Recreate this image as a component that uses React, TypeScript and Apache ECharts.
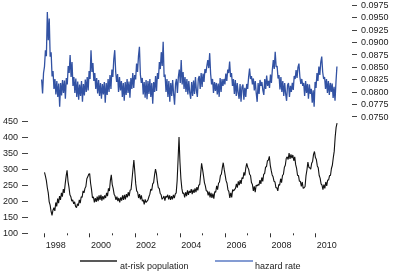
import React, { useEffect, useRef } from "react";
import * as echarts from "echarts";

const START_YEAR = 1998;
const STEPS_PER_YEAR = 24;
const X_MIN = 1997.27;
const X_MAX = 2011.62;

// at-risk population, semi-monthly, 1998-2010
const atRisk: number[] = [
  290, 278, 264, 242, 226, 198, 188, 168, 156, 172, 180, 170, 196, 184, 208, 194, 216, 204, 226, 214, 238, 226, 254, 278,
  296, 262, 244, 220, 214, 200, 204, 192, 198, 184, 180, 192, 186, 204, 194, 214, 212, 232, 226, 240, 246, 270, 276, 284,
  286, 256, 236, 210, 214, 196, 210, 198, 214, 200, 218, 204, 220, 202, 216, 206, 218, 210, 226, 216, 240, 232, 264, 282,
  252, 240, 222, 216, 204, 214, 200, 210, 196, 212, 202, 218, 204, 220, 206, 222, 212, 228, 216, 234, 236, 266, 298, 328,
  292, 254, 232, 228, 210, 222, 206, 218, 200, 204, 190, 206, 196, 200, 204, 214, 222, 238, 234, 254, 258, 282, 300, 286,
  260, 242, 240, 224, 220, 206, 210, 216, 202, 216, 212, 220, 206, 218, 204, 216, 206, 220, 210, 222, 226, 264, 330, 400,
  322, 270, 240, 224, 226, 212, 228, 216, 234, 220, 232, 226, 238, 222, 236, 226, 240, 228, 244, 234, 250, 252, 284, 318,
  300, 280, 258, 248, 232, 232, 218, 230, 212, 226, 210, 224, 208, 230, 228, 248, 236, 256, 260, 280, 284, 304, 320, 300,
  282, 264, 256, 236, 230, 210, 226, 212, 236, 232, 236, 240, 254, 242, 262, 250, 266, 254, 274, 270, 290, 280, 304, 318,
  306, 300, 284, 280, 258, 252, 232, 246, 228, 250, 248, 252, 250, 266, 254, 274, 262, 284, 286, 306, 308, 326, 328, 340,
  312, 296, 282, 276, 262, 260, 242, 242, 232, 252, 250, 270, 258, 280, 284, 306, 312, 334, 338, 330, 350, 332, 346, 334,
  344, 326, 338, 314, 302, 280, 280, 262, 262, 246, 260, 240, 242, 246, 280, 298, 322, 306, 304, 300, 318, 324, 346, 355,
  336, 330, 310, 304, 280, 272, 254, 250, 236, 252, 240, 260, 248, 266, 266, 280, 280, 302, 312, 336, 356, 400, 430, 443,
];

// hazard rate, semi-monthly, 1998-2010
const hazard: number[] = [
  0.0825, 0.0797, 0.0838, 0.0851, 0.0884, 0.0872, 0.0961, 0.0904, 0.0948, 0.0871, 0.0880, 0.0831, 0.0842, 0.0806, 0.0826, 0.0795, 0.0822, 0.0790, 0.0817, 0.0770, 0.0818, 0.0793, 0.0824, 0.0798,
  0.0823, 0.0786, 0.0828, 0.0815, 0.0852, 0.0838, 0.0874, 0.0830, 0.0860, 0.0812, 0.0830, 0.0798, 0.0827, 0.0790, 0.0821, 0.0784, 0.0815, 0.0792, 0.0822, 0.0780, 0.0816, 0.0793, 0.0825, 0.0800,
  0.0830, 0.0803, 0.0842, 0.0826, 0.0884, 0.0840, 0.0858, 0.0822, 0.0838, 0.0806, 0.0828, 0.0797, 0.0824, 0.0792, 0.0818, 0.0786, 0.0816, 0.0795, 0.0820, 0.0778, 0.0818, 0.0794, 0.0826, 0.0800,
  0.0834, 0.0806, 0.0845, 0.0830, 0.0866, 0.0884, 0.0840, 0.0820, 0.0836, 0.0800, 0.0830, 0.0803, 0.0822, 0.0790, 0.0818, 0.0782, 0.0820, 0.0794, 0.0826, 0.0798, 0.0821, 0.0788, 0.0828, 0.0806,
  0.0838, 0.0808, 0.0834, 0.0825, 0.0857, 0.0840, 0.0872, 0.0891, 0.0835, 0.0818, 0.0828, 0.0795, 0.0820, 0.0788, 0.0824, 0.0785, 0.0822, 0.0796, 0.0826, 0.0790, 0.0818, 0.0776, 0.0820, 0.0800,
  0.0832, 0.0802, 0.0838, 0.0826, 0.0860, 0.0846, 0.0880, 0.0852, 0.0901, 0.0830, 0.0835, 0.0800, 0.0826, 0.0790, 0.0822, 0.0780, 0.0818, 0.0792, 0.0824, 0.0796, 0.0774, 0.0816, 0.0826, 0.0798,
  0.0830, 0.0845, 0.0818, 0.0864, 0.0815, 0.0840, 0.0806, 0.0830, 0.0800, 0.0826, 0.0795, 0.0822, 0.0798, 0.0786, 0.0820, 0.0792, 0.0823, 0.0796, 0.0830, 0.0802, 0.0790, 0.0826, 0.0832, 0.0806,
  0.0838, 0.0810, 0.0837, 0.0820, 0.0846, 0.0838, 0.0852, 0.0864, 0.0848, 0.0878, 0.0836, 0.0815, 0.0826, 0.0798, 0.0820, 0.0802, 0.0818, 0.0795, 0.0817, 0.0790, 0.0828, 0.0800, 0.0826, 0.0812,
  0.0826, 0.0815, 0.0837, 0.0822, 0.0845, 0.0838, 0.0861, 0.0830, 0.0838, 0.0812, 0.0826, 0.0796, 0.0824, 0.0792, 0.0818, 0.0798, 0.0786, 0.0816, 0.0780, 0.0810, 0.0815, 0.0784, 0.0808, 0.0790,
  0.0816, 0.0806, 0.0830, 0.0847, 0.0826, 0.0832, 0.0815, 0.0827, 0.0803, 0.0822, 0.0798, 0.0780, 0.0818, 0.0796, 0.0824, 0.0812, 0.0820, 0.0803, 0.0794, 0.0826, 0.0806, 0.0833, 0.0812, 0.0822,
  0.0808, 0.0835, 0.0818, 0.0845, 0.0864, 0.0846, 0.0881, 0.0850, 0.0852, 0.0827, 0.0834, 0.0805, 0.0830, 0.0800, 0.0822, 0.0792, 0.0818, 0.0796, 0.0782, 0.0814, 0.0818, 0.0790, 0.0812, 0.0800,
  0.0818, 0.0804, 0.0832, 0.0826, 0.0844, 0.0828, 0.0850, 0.0857, 0.0830, 0.0816, 0.0826, 0.0812, 0.0818, 0.0792, 0.0822, 0.0798, 0.0816, 0.0786, 0.0815, 0.0796, 0.0806, 0.0778, 0.0803, 0.0770,
  0.0820, 0.0808, 0.0838, 0.0822, 0.0851, 0.0834, 0.0860, 0.0871, 0.0840, 0.0826, 0.0830, 0.0806, 0.0826, 0.0798, 0.0822, 0.0794, 0.0818, 0.0800, 0.0817, 0.0788, 0.0810, 0.0782, 0.0820, 0.0851,
];

const majorYearTicks = [1998, 2000, 2002, 2004, 2006, 2008, 2010];
const minorYearTicks = [1999, 2001, 2003, 2005, 2007, 2009];
const yearLabels = [1998, 2000, 2002, 2004, 2006, 2008, 2010];

const FONT = "Liberation Sans, Arial, Helvetica, sans-serif";
const BLUE = "#3252a3";

export default function App() {
  const ref = useRef<HTMLDivElement>(null);
  useEffect(() => {
    if (!ref.current) return;
    const chart = echarts.init(ref.current, undefined, { renderer: "svg" });
    const toPairs = (arr: number[]) => arr.map((v, i) => [START_YEAR + i / STEPS_PER_YEAR, v]);
    const textStyle = { fontFamily: FONT, fontSize: 9, color: "#222" };
    chart.setOption({
      animation: false,
      textStyle: { fontFamily: FONT },
      grid: [
        { left: 25, right: 43, top: 5, height: 111.7 },
        { left: 25, right: 43, top: 121, height: 112.3 },
      ],
      xAxis: [
        { gridIndex: 0, type: "value", min: X_MIN, max: X_MAX, show: false },
        {
          gridIndex: 1, type: "value", min: X_MIN, max: X_MAX, position: "bottom",
          axisLine: { show: false },
          splitLine: { show: false },
          axisTick: { show: true, length: 4, customValues: majorYearTicks, lineStyle: { color: "#333", width: 1 } },
          axisLabel: {
            ...textStyle, margin: 7,
            customValues: yearLabels.map((y) => y + 0.5),
            formatter: (v: number) => String(Math.floor(v)),
          },
        },
        {
          gridIndex: 1, type: "value", min: X_MIN, max: X_MAX, position: "bottom", offset: 0,
          axisLine: { show: false },
          splitLine: { show: false },
          axisTick: { show: true, length: 2, customValues: minorYearTicks, lineStyle: { color: "#333", width: 1 } },
          axisLabel: { show: false },
        },
      ],
      yAxis: [
        {
          gridIndex: 0, type: "value", position: "right", min: 0.075, max: 0.0975, interval: 0.0025,
          axisLine: { show: false },
          splitLine: { show: false },
          axisTick: { show: true, length: 5, lineStyle: { color: "#444" } },
          axisLabel: { ...textStyle, margin: 9, formatter: (v: number) => v.toFixed(4) },
        },
        {
          gridIndex: 1, type: "value", position: "left", min: 100, max: 450, interval: 50,
          axisLine: { show: false },
          splitLine: { show: false },
          axisTick: { show: true, length: 6, lineStyle: { color: "#444" } },
          axisLabel: { ...textStyle, margin: 10 },
        },
      ],
      series: [
        {
          type: "line", name: "hazard rate", xAxisIndex: 0, yAxisIndex: 0,
          data: toPairs(hazard), showSymbol: false, symbol: "none",
          lineStyle: { color: BLUE, width: 1.3 },
        },
        {
          type: "line", name: "at-risk population", xAxisIndex: 1, yAxisIndex: 1,
          data: toPairs(atRisk), showSymbol: false, symbol: "none",
          lineStyle: { color: "#111", width: 1.1 },
        },
      ],
      graphic: [
        { type: "line", shape: { x1: 80, y1: 261, x2: 117, y2: 261 }, style: { stroke: "#222", lineWidth: 1.5 } },
        { type: "text", x: 120, y: 266, style: { text: "at-risk population", font: `9px ${FONT}`, fill: "#222", verticalAlign: "middle" } },
        { type: "line", shape: { x1: 215, y1: 261, x2: 253, y2: 261 }, style: { stroke: "#5b7bc5", lineWidth: 1.5 } },
        { type: "text", x: 255, y: 266, style: { text: "hazard rate", font: `9px ${FONT}`, fill: "#222", verticalAlign: "middle" } },
      ],
    });
    return () => chart.dispose();
  }, []);
  return <div ref={ref} style={{ position: "fixed", left: 0, top: 0, width: 395, height: 275 }} />;
}
